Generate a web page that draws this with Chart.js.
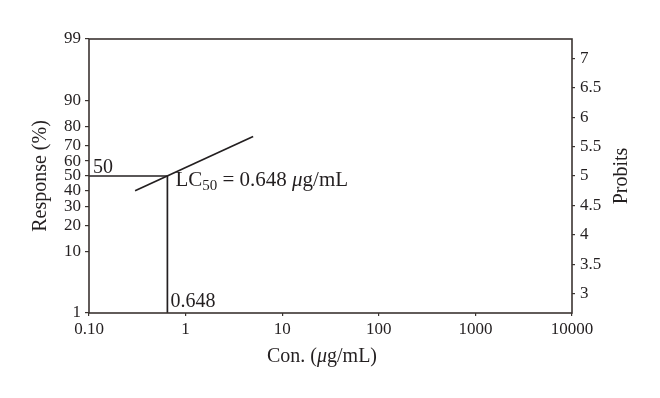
<!DOCTYPE html>
<html>
<head>
<meta charset="utf-8">
<script src="https://cdn.jsdelivr.net/npm/chart.js@4.4.1/dist/chart.umd.min.js"></script>
<style>
  html, body { margin: 0; padding: 0; background: #fff; }
  #wrap { width: 660px; height: 398px; }
</style>
</head>
<body>
<div id="wrap"><canvas id="chart" width="660" height="398"></canvas></div>
<script>
// x axis (log concentration)
const xTicks = [0.1, 1, 10, 100, 1000, 10000];
const xTickLabels = ['0.10', '1', '10', '100', '1000', '10000'];
// left axis: response (%) on a probit scale
const responseTicks = [1, 10, 20, 30, 40, 50, 60, 70, 80, 90, 99];
// right axis: probits
const probitTicks = [3, 3.5, 4, 4.5, 5, 5.5, 6, 6.5, 7];
// fitted probit line (concentration, probit)
const fitConc = [0.3, 5];
const fitProbit = [4.75, 5.67];
// LC50 marker
const lc50 = 0.648;
const lc50Response = 50;

const FONT = "'Liberation Serif', 'DejaVu Serif', serif";
const INK = '#231f20';
const AXIS = '#3b3431';

// inverse normal cdf (Acklam) -> probit = 5 + z
function probit(pct) {
  const p = pct / 100;
  const a = [-3.969683028665376e+01, 2.209460984245205e+02, -2.759285104469687e+02, 1.383577518672690e+02, -3.066479806614716e+01, 2.506628277459239e+00];
  const b = [-5.447609879822406e+01, 1.615858368580409e+02, -1.556989798598866e+02, 6.680131188771972e+01, -1.328068155288572e+01];
  const c = [-7.784894002430293e-03, -3.223964580411365e-01, -2.400758277161838e+00, -2.549732539343734e+00, 4.374664141464968e+00, 2.938163982698783e+00];
  const d = [7.784695709041462e-03, 3.224671290700398e-01, 2.445134137142996e+00, 3.754408661907416e+00];
  const pl = 0.02425;
  let z;
  if (p < pl) {
    const q = Math.sqrt(-2 * Math.log(p));
    z = (((((c[0]*q+c[1])*q+c[2])*q+c[3])*q+c[4])*q+c[5]) / ((((d[0]*q+d[1])*q+d[2])*q+d[3])*q+1);
  } else if (p <= 1 - pl) {
    const q = p - 0.5, r = q * q;
    z = (((((a[0]*r+a[1])*r+a[2])*r+a[3])*r+a[4])*r+a[5])*q / (((((b[0]*r+b[1])*r+b[2])*r+b[3])*r+b[4])*r+1);
  } else {
    const q = Math.sqrt(-2 * Math.log(1 - p));
    z = -(((((c[0]*q+c[1])*q+c[2])*q+c[3])*q+c[4])*q+c[5]) / ((((d[0]*q+d[1])*q+d[2])*q+d[3])*q+1);
  }
  return 5 + z;
}

const xMin = xTicks[0];
const xMax = xTicks[xTicks.length - 1];
const yMin = probit(responseTicks[0]);
const yMax = probit(responseTicks[responseTicks.length - 1]);
const p50 = probit(lc50Response);

// draws a run of text pieces with different fonts / offsets
function drawRun(ctx, x, y, parts) {
  let cx = x;
  parts.forEach(part => {
    ctx.font = part.font;
    ctx.fillText(part.t, cx, y + (part.dy || 0));
    cx += ctx.measureText(part.t).width;
  });
  return cx - x;
}
function runWidth(ctx, parts) {
  let w = 0;
  parts.forEach(part => { ctx.font = part.font; w += ctx.measureText(part.t).width; });
  return w;
}

const decorPlugin = {
  id: 'decor',
  afterDraw(chart) {
    const ctx = chart.ctx;
    const area = chart.chartArea;
    const xs = chart.scales.x;
    const ys = chart.scales.y;
    ctx.save();

    // frame
    ctx.strokeStyle = AXIS;
    ctx.lineWidth = 1.6;
    ctx.strokeRect(area.left, area.top, area.right - area.left, area.bottom - area.top);

    ctx.fillStyle = INK;
    ctx.textBaseline = 'alphabetic';
    ctx.textAlign = 'left';
    const big = '20px ' + FONT;
    const bigItalic = 'italic 20px ' + FONT;
    const lcFont = '21px ' + FONT;
    const lcItalic = 'italic 21px ' + FONT;
    const sub = '15px ' + FONT;

    // annotations
    const xl = xs.getPixelForValue(lc50);
    const y50 = ys.getPixelForValue(p50);
    ctx.font = big;
    ctx.fillText(String(lc50Response), area.left + 4, y50 - 3);
    ctx.fillText(String(lc50), xl + 3, area.bottom - 6);
    drawRun(ctx, xl + 8, y50 + 10, [
      { t: 'LC', font: lcFont },
      { t: String(lc50Response), font: sub, dy: 4 },
      { t: ' = ' + lc50 + ' ', font: lcFont },
      { t: '\u03bc', font: lcItalic },
      { t: 'g/mL', font: lcFont }
    ]);

    // axis titles
    const xTitle = [
      { t: 'Con. (', font: big },
      { t: '\u03bc', font: bigItalic },
      { t: 'g/mL)', font: big }
    ];
    const w = runWidth(ctx, xTitle);
    drawRun(ctx, 322 - w / 2, 362, xTitle);

    ctx.font = big;
    ctx.textAlign = 'center';
    ctx.textBaseline = 'middle';
    ctx.save();
    ctx.translate(41, (area.top + area.bottom) / 2);
    ctx.rotate(-Math.PI / 2);
    ctx.fillText('Response (%)', 0, 0);
    ctx.restore();

    ctx.save();
    ctx.translate(622, (area.top + area.bottom) / 2);
    ctx.rotate(-Math.PI / 2);
    ctx.fillText('Probits', 0, 0);
    ctx.restore();

    ctx.restore();
  }
};

const tickFont = { family: FONT, size: 17 };

new Chart(document.getElementById('chart'), {
  type: 'line',
  data: {
    datasets: [
      {
        label: 'Probit line',
        data: fitConc.map((x, i) => ({ x: x, y: fitProbit[i] })),
        borderColor: INK,
        borderWidth: 1.7,
        pointRadius: 0,
        fill: false
      },
      {
        label: 'LC50 horizontal',
        data: [{ x: xMin, y: p50 }, { x: lc50, y: p50 }],
        borderColor: INK,
        borderWidth: 1.7,
        pointRadius: 0,
        fill: false
      },
      {
        label: 'LC50 vertical',
        data: [{ x: lc50, y: yMin }, { x: lc50, y: p50 }],
        borderColor: INK,
        borderWidth: 1.7,
        pointRadius: 0,
        fill: false
      }
    ]
  },
  options: {
    responsive: false,
    animation: false,
    layout: { padding: { top: 39, left: 0, right: 0, bottom: 0 } },
    plugins: {
      legend: { display: false },
      tooltip: { enabled: false }
    },
    scales: {
      x: {
        type: 'logarithmic',
        position: 'bottom',
        min: xMin,
        max: xMax,
        afterBuildTicks: (s) => { s.ticks = xTicks.map(v => ({ value: v })); },
        afterFit: (s) => { s.height = 85; },
        ticks: {
          autoSkip: false,
          maxRotation: 0,
          color: INK,
          font: tickFont,
          padding: 3,
          callback: (v, i) => xTickLabels[i]
        },
        grid: { drawOnChartArea: false, tickLength: 3, color: AXIS, lineWidth: 1.2 },
        border: { display: false }
      },
      y: {
        type: 'linear',
        position: 'left',
        min: yMin,
        max: yMax,
        afterBuildTicks: (s) => { s.ticks = responseTicks.map(p => ({ value: probit(p) })); },
        afterFit: (s) => { s.width = 89; },
        ticks: {
          autoSkip: false,
          color: INK,
          font: tickFont,
          padding: 4,
          callback: (v, i) => String(responseTicks[i])
        },
        grid: { drawOnChartArea: false, tickLength: 4, color: AXIS, lineWidth: 1.2 },
        border: { display: false }
      },
      y2: {
        type: 'linear',
        position: 'right',
        min: yMin,
        max: yMax,
        afterBuildTicks: (s) => { s.ticks = probitTicks.map(v => ({ value: v })); },
        afterFit: (s) => { s.width = 88; },
        ticks: {
          autoSkip: false,
          color: INK,
          font: tickFont,
          padding: 5,
          callback: (v, i) => String(probitTicks[i])
        },
        grid: { drawOnChartArea: false, tickLength: 3, color: AXIS, lineWidth: 1.2 },
        border: { display: false }
      }
    }
  },
  plugins: [decorPlugin]
});
</script>
</body>
</html>
